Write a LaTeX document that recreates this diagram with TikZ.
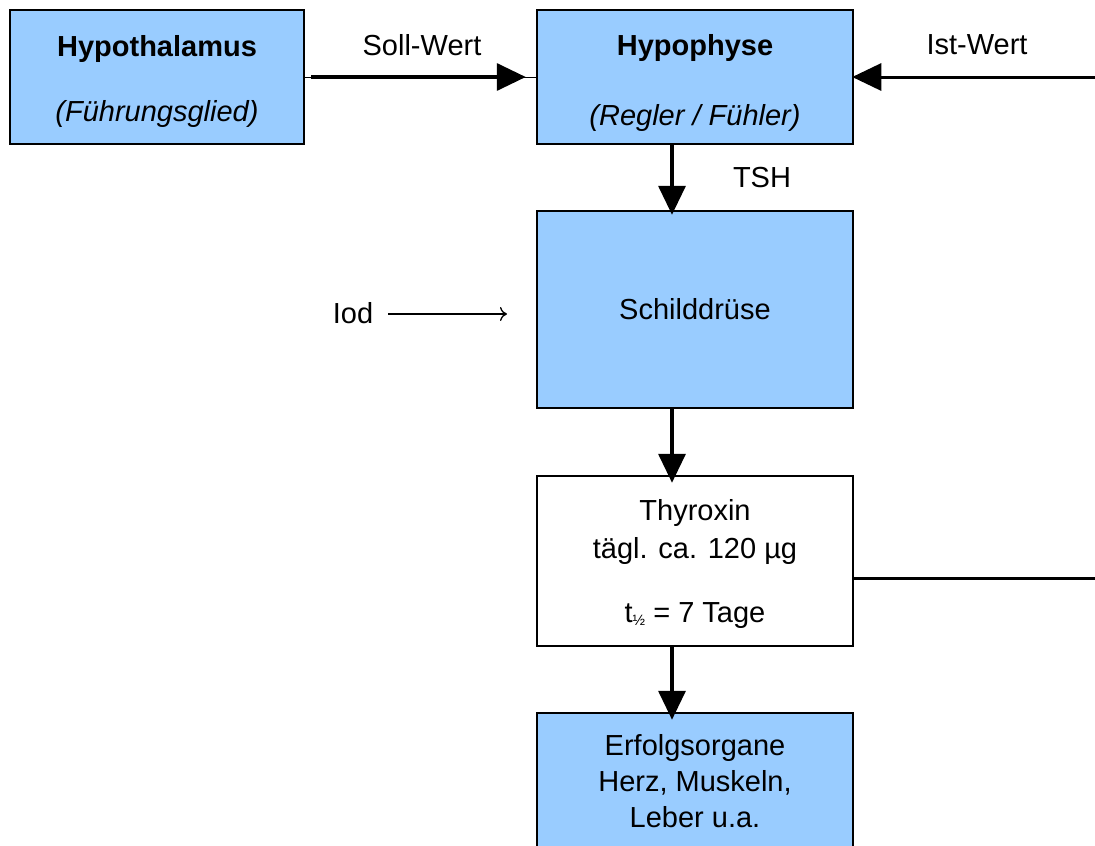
\documentclass[tikz,border=0pt]{standalone}
\usepackage{fontspec}
\setmainfont{Liberation Sans}
\usetikzlibrary{arrows.meta}
\definecolor{boxblue}{HTML}{99CCFF}
\begin{document}
\begin{tikzpicture}[x=1pt,y=-1pt,
  every node/.style={font=\fontsize{29}{36}\selectfont},
  box/.style={draw=black, line width=2.5pt, fill=boxblue, inner sep=0pt, align=center},
  whitebox/.style={box, fill=white},
  bigarrow/.style={line width=3.5pt, -{Triangle[length=29pt,width=27pt]}},
  plainline/.style={line width=3pt},
  thinline/.style={line width=1.3pt},
  label/.style={inner sep=0pt}
]
\useasboundingbox (0,0) rectangle (1095,846);
\clip (0,0) rectangle (1095,846);

% boxes (a zero-width rule on the first line lowers the text block)
\node[box, minimum width=294pt, minimum height=134pt] (hyth) at (157,77)
  {\rule{0pt}{31pt}{\bfseries Hypothalamus}\\[29pt]{\itshape (Führungsglied)}};
\node[box, minimum width=316pt, minimum height=134pt] (hyph) at (695,77)
  {\rule{0pt}{33pt}{\bfseries Hypophyse}\\[34pt]{\itshape (Regler / Fühler)}};
\node[box, minimum width=316pt, minimum height=197pt] (schild) at (695,309.5)
  {Schilddrüse};
\node[whitebox, minimum width=316pt, minimum height=170pt,
      font=\fontsize{29}{38}\selectfont] (thy) at (695,561)
  {\rule{0pt}{27pt}Thyroxin\\tägl. ca. 120 µg\\[26pt]t\raisebox{-3pt}{\fontsize{15}{15}\selectfont ½} = 7 Tage};
\node[box, minimum width=316pt, minimum height=136pt,
      font=\fontsize{29}{36}\selectfont] (org) at (695,781)
  {Erfolgsorgane\\Herz, Muskeln,\\Leber u.a.};

% helper points
\coordinate (col) at (672,0);
\coordinate (istR) at (1095,77);
\coordinate (fbR) at (1095,578);
\coordinate (iodEnd) at (507,314);

% labels
\node[label] (soll) at (422,45) {Soll-Wert};
\node[label] (ist) at (977,45) {Ist-Wert};
\node[label] (tsh) at (762,178) {TSH};
\node[label] (iod) at (353,313) {Iod};

% connectors
\draw[line width=1pt] (hyth.east) -- (hyph.west);
\draw[bigarrow, shorten <=6pt, shorten >=10pt] (hyth.east) -- (hyph.west);
\draw[line width=3pt, -{Triangle[length=29pt,width=27pt]}, shorten >=-2pt] (istR) -- (hyph.east);
\draw[bigarrow, shorten >=-5pt] (hyph.south -| col) -- (schild.north -| col);
\draw[bigarrow, shorten >=-8pt] (schild.south -| col) -- (thy.north -| col);
\draw[bigarrow, shorten >=-8pt] (thy.south -| col) -- (org.north -| col);
\draw[thinline, -{To[length=7pt,width=14pt]}, shorten <=15pt] (iod.east |- iodEnd) -- (iodEnd);
\draw[plainline] (thy.east |- fbR) -- (fbR);
\end{tikzpicture}
\end{document}
